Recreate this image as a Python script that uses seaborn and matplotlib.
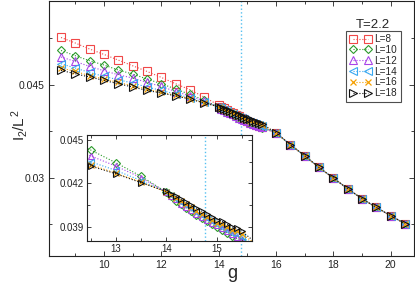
import numpy as np
import pandas as pd
import matplotlib
matplotlib.use("Agg")
import matplotlib.pyplot as plt
import seaborn as sns
from matplotlib.ticker import MultipleLocator

sns.set_theme(style="ticks")
plt.rcParams['font.family'] = ['Liberation Sans', 'DejaVu Sans']
plt.rcParams['mathtext.fontset'] = 'custom'
plt.rcParams['mathtext.rm'] = 'Liberation Sans'
plt.rcParams['mathtext.it'] = 'Liberation Sans'

# ---------------- data ----------------
g_vals = [8.5, 9.0, 9.5, 10.0, 10.5, 11.0, 11.5, 12.0, 12.5, 13.0, 13.5,
          14.0, 14.1, 14.2, 14.3, 14.4, 14.5, 14.6, 14.7, 14.8, 14.9,
          15.0, 15.1, 15.2, 15.3, 15.4, 15.5,
          16.0, 16.5, 17.0, 17.5, 18.0, 18.5, 19.0, 19.5, 20.0, 20.5]

high = [0.03726, 0.03532, 0.03355, 0.03166, 0.02995, 0.02823, 0.02661, 0.02521, 0.02387, 0.02258]

L8 = [0.05263, 0.05173, 0.05076, 0.04989, 0.04898, 0.04806, 0.04715, 0.04618, 0.04516, 0.04419, 0.04300,
      0.0417, 0.0414, 0.0412, 0.0409, 0.0406, 0.0404, 0.0401, 0.0399, 0.0397, 0.0394,
      0.0392, 0.0390, 0.0388, 0.0385, 0.0383, 0.0381] + high
L10 = [0.05053, 0.04968, 0.04887, 0.04818, 0.04737, 0.04673, 0.04592, 0.04516, 0.04431, 0.04343, 0.04250,
       0.0414, 0.0411, 0.0408, 0.0406, 0.0403, 0.0401, 0.0398, 0.0396, 0.0394, 0.0392,
       0.0390, 0.0388, 0.0386, 0.0384, 0.0382, 0.0380] + high
L12 = [0.04947, 0.04876, 0.04795, 0.04726, 0.04661, 0.04608, 0.04537, 0.04473, 0.04390, 0.04320, 0.04240,
       0.0414, 0.0411, 0.0409, 0.0406, 0.0404, 0.0402, 0.0399, 0.0397, 0.0395, 0.0393,
       0.0391, 0.0389, 0.0387, 0.0385, 0.0383, 0.0381] + high
L14 = [0.04839, 0.04769, 0.04698, 0.04634, 0.04581, 0.04527, 0.04463, 0.04408, 0.04350, 0.04290, 0.04220,
       0.0414, 0.0412, 0.0409, 0.0407, 0.0405, 0.0403, 0.0400, 0.0398, 0.0396, 0.0394,
       0.0392, 0.0390, 0.0388, 0.0386, 0.0385, 0.0383] + high
L16 = [0.04769, 0.04715, 0.04645, 0.04592, 0.04537, 0.04484, 0.04431, 0.04376, 0.04330, 0.04270, 0.04210,
       0.0414, 0.0412, 0.0410, 0.0408, 0.0406, 0.0404, 0.0401, 0.0399, 0.0397, 0.0395,
       0.0393, 0.0392, 0.0390, 0.0388, 0.0387, 0.0385] + high
L18 = [0.04731, 0.04677, 0.04624, 0.04569, 0.04516, 0.04463, 0.04408, 0.04366, 0.04320, 0.04267, 0.04205,
       0.04145, 0.0413, 0.0411, 0.0409, 0.0407, 0.0405, 0.0403, 0.0401, 0.0399, 0.0397,
       0.0395, 0.0394, 0.0392, 0.0390, 0.0389, 0.0387] + high

series_labels = ["L=8", "L=10", "L=12", "L=14", "L=16", "L=18"]
series_values = [L8, L10, L12, L14, L16, L18]
inset_labels = ["L=10", "L=12", "L=14", "L=16", "L=18"]
g_critical = 14.77
temperature_label = "T=2.2"

# ---------------- styles ----------------
colors = {"L=8": "#f04848", "L=10": "#2a9a2a", "L=12": "#a844e8",
          "L=14": "#38a8f0", "L=16": "#f5a000", "L=18": "#111111"}
markers = {"L=8": "s", "L=10": "D", "L=12": "^", "L=14": "<", "L=16": "x", "L=18": ">"}
msizes = {"L=8": 5.2, "L=10": 4.4, "L=12": 5.2, "L=14": 5.2, "L=16": 4.4, "L=18": 5.2}

df = pd.concat([pd.DataFrame({"g": g_vals, "v": vals, "L": lab})
                for lab, vals in zip(series_labels, series_values)], ignore_index=True)

fig = plt.figure(figsize=(4.15, 2.84), dpi=100)
ax = fig.add_axes([49/415, 1 - 256.3/284, (414 - 49)/415, (256.3 - 0.5)/284])


def draw(axis, labels, ms_scale=1.0, with_label=True):
    for lab in labels:
        sub = df[df["L"] == lab]
        c = colors[lab]
        mk = markers[lab]
        kw = dict(mfc="none", mec=c, mew=0.8) if mk != "x" else dict(mec=c, mew=0.9)
        sns.lineplot(data=sub, x="g", y="v", ax=axis, color=c, marker=mk,
                     markersize=msizes[lab] * ms_scale, linestyle=":", linewidth=0.8,
                     label=lab if with_label else None, legend=False,
                     estimator=None, sort=True, **kw)


draw(ax, series_labels)
ax.axvline(g_critical, color="#55c0f0", linestyle=":", linewidth=1.0, zorder=0)

ax.set_xlim(8.08, 20.82)
ax.set_ylim(0.0173, 0.0586)
ax.xaxis.set_major_locator(MultipleLocator(2))
ax.xaxis.set_minor_locator(MultipleLocator(1))
ax.yaxis.set_major_locator(MultipleLocator(0.015))
ax.yaxis.set_minor_locator(MultipleLocator(0.0075))
ax.yaxis.set_major_formatter(matplotlib.ticker.FuncFormatter(lambda v, p: f"{v:g}"))
ax.tick_params(which="both", direction="in", top=True, right=True, length=3.5,
               width=0.6, labelsize=7.5, pad=3, colors="#222222")
ax.tick_params(which="minor", length=2.5)
for s in ax.spines.values():
    s.set_linewidth(0.8)
    s.set_color("#222222")
ax.set_xlabel("g", fontsize=13)
ax.xaxis.set_label_coords(0.501, -0.035)
ax.set_ylabel("$I_2/L^2$", fontsize=11)
ax.yaxis.set_label_coords(-0.052, 0.513)

leg = ax.legend(loc="upper right", bbox_to_anchor=(0.964, 0.882), fontsize=7.2,
                numpoints=2, handlelength=2.1, handletextpad=0.4, labelspacing=0.08,
                borderpad=0.35, borderaxespad=0.0, frameon=True, fancybox=False)
leg.get_frame().set_edgecolor("#222222")
leg.get_frame().set_linewidth(0.8)
ax.text(0.888, 0.904, temperature_label, transform=ax.transAxes, ha="center",
        va="center", fontsize=9.5)

# ---------------- inset ----------------
axin = fig.add_axes([87/415, 1 - 241/284, (252 - 87)/415, (241 - 135)/284])
draw(axin, inset_labels, ms_scale=0.95, with_label=False)
axin.axvline(g_critical, color="#55c0f0", linestyle=":", linewidth=1.0, zorder=0)
axin.set_xlim(12.43, 15.70)
axin.set_ylim(0.03803, 0.04534)
axin.xaxis.set_major_locator(MultipleLocator(1))
axin.xaxis.set_minor_locator(MultipleLocator(0.5))
axin.yaxis.set_major_locator(MultipleLocator(0.003))
axin.yaxis.set_minor_locator(MultipleLocator(0.0015))
axin.yaxis.set_major_formatter(matplotlib.ticker.FuncFormatter(lambda v, p: f"{v:.3f}"))
axin.tick_params(which="both", direction="in", top=True, right=True, length=3,
                 width=0.6, labelsize=7, pad=2, colors="#222222")
axin.tick_params(which="minor", length=2)
axin.set_xlabel("")
axin.set_ylabel("")
for s in axin.spines.values():
    s.set_linewidth(0.8)
    s.set_color("#222222")

fig.savefig("out.png", dpi=100)
